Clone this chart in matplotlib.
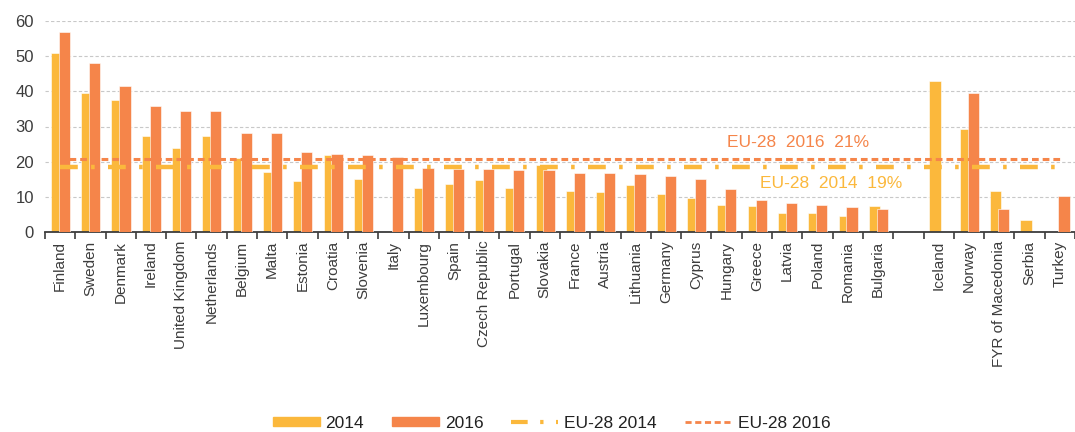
import numpy as np
import matplotlib
matplotlib.use('Agg')
import matplotlib.pyplot as plt
from matplotlib.patches import Patch
from matplotlib.lines import Line2D

plt.rcParams['font.family'] = ['Liberation Sans', 'DejaVu Sans']

# data
countries = ['Finland', 'Sweden', 'Denmark', 'Ireland', 'United Kingdom', 'Netherlands',
             'Belgium', 'Malta', 'Estonia', 'Croatia', 'Slovenia', 'Italy', 'Luxembourg',
             'Spain', 'Czech Republic', 'Portugal', 'Slovakia', 'France', 'Austria',
             'Lithuania', 'Germany', 'Cyprus', 'Hungary', 'Greece', 'Latvia', 'Poland',
             'Romania', 'Bulgaria', '', 'Iceland', 'Norway', 'FYR of Macedonia', 'Serbia',
             'Turkey']
v2014 = [50.8, 39.4, 37.5, 27.4, 23.9, 27.4, 21.0, 17.2, 14.5, 21.9, 15.2, np.nan, 12.5,
         13.7, 14.8, 12.5, 19.1, 11.7, 11.3, 13.3, 10.9, 9.8, 7.8, 7.5, 5.5, 5.5,
         4.7, 7.5, np.nan, 43.0, 29.3, 11.7, 3.5, np.nan]
v2016 = [56.7, 48.1, 41.4, 35.9, 34.4, 34.4, 28.1, 28.1, 22.7, 22.3, 21.8, 21.4, 18.1,
         17.9, 17.9, 17.6, 17.6, 16.8, 16.8, 16.4, 16.0, 15.2, 12.2, 9.1, 8.2, 7.8,
         7.1, 6.7, np.nan, np.nan, 39.4, 6.7, np.nan, 10.2]
eu2014 = 18.5
eu2016 = 20.8

c14 = '#FBB83C'
c16 = '#F5854A'
grey = '#3C3C3C'

x = np.arange(len(countries))

fig = plt.figure(figsize=(10.75, 4.32), dpi=100)
ax = fig.add_axes([45/1075, 1-232.3/432, 1-45/1075, (232.3-20.7)/432])

w = 0.37
ax.bar(x - 0.12, v2014, w, color=c14, edgecolor='white', linewidth=0.4, zorder=2)
ax.bar(x + 0.14, v2016, w, color=c16, edgecolor='white', linewidth=0.4, zorder=3)

ax.plot([0, 33], [eu2014, eu2014], color=c14, lw=3.2, dashes=(4, 3, 0.8, 3), zorder=4)
ax.plot([0.3, 33], [eu2016, eu2016], color=c16, lw=2.2, dashes=(2.2, 1.3), zorder=4)

ax.text(22.0, 25.6, 'EU-28  2016  21%', color=c16, fontsize=12.5,
        va='center', ha='left')
ax.text(23.1, 13.7, 'EU-28  2014  19%', color=c14, fontsize=12.5,
        va='center', ha='left')

ax.set_xlim(-0.5, -0.5 + 1030/30.4)
ax.set_ylim(0, 60)
ax.set_yticks(range(0, 61, 10))
ax.yaxis.grid(True, color='#C8C8C8', linestyle=(0, (3, 2)), linewidth=0.8)
ax.set_axisbelow(True)

ax.set_xticks(x)
ax.set_xticklabels(countries, rotation=90, fontsize=11, color=grey)
ax.set_xticks(np.arange(-0.5, 34, 1), minor=True)
ax.tick_params(axis='x', which='major', length=0, pad=6)
ax.tick_params(axis='x', which='minor', length=5, width=1.2, color=grey, direction='out')
ax.tick_params(axis='y', length=0, labelsize=12, labelcolor=grey, pad=8)

for s in ['top', 'right', 'left']:
    ax.spines[s].set_visible(False)
ax.spines['bottom'].set_color(grey)
ax.spines['bottom'].set_linewidth(1.3)

handles = [Patch(color=c14, label='2014'),
           Patch(color=c16, label='2016'),
           Line2D([], [], color=c14, lw=3, dashes=(4, 3, 0.8, 3), label='EU-28 2014'),
           Line2D([], [], color=c16, lw=2, dashes=(2.2, 1.3), label='EU-28 2016')]
fig.legend(handles=handles, loc='center', bbox_to_anchor=(0.513, 1 - 423/432), ncol=4,
           frameon=False, fontsize=12.5, handlelength=2.7, handleheight=0.45,
           columnspacing=1.6, handletextpad=0.35, labelcolor='#222222',
           borderpad=0, borderaxespad=0)

fig.savefig('out.png', dpi=100)
